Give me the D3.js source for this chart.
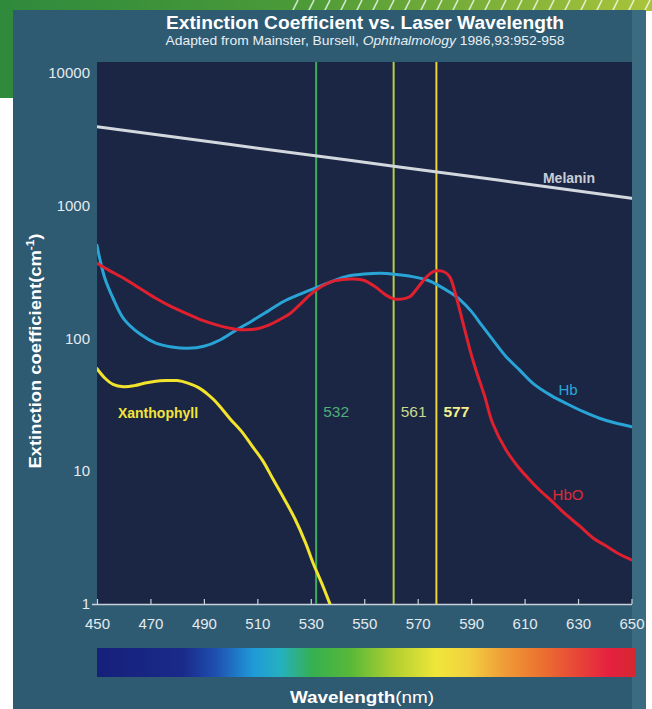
<!DOCTYPE html>
<html>
<head>
<meta charset="utf-8">
<script src="https://cdn.jsdelivr.net/npm/d3@7"></script>
<style>
  html, body { margin: 0; padding: 0; background: #ffffff; }
  svg { display: block; font-family: "Liberation Sans", Arial, Helvetica, sans-serif; }
</style>
</head>
<body>
<svg id="chart" width="652" height="709"></svg>
<script>
// ---- Data: extinction coefficient (cm^-1) by wavelength (nm) ----
const wavelengthTicks = [450, 470, 490, 510, 530, 550, 570, 590, 610, 630, 650];
const coefficientTicks = [1, 10, 100, 1000, 10000];

const melaninNm  = [450, 500, 550, 600, 650];
const melaninVal = [3900, 2870, 2110, 1550, 1130];

const hbNm  = [450, 451, 453, 456, 460, 466, 472, 478, 484, 490, 496, 502, 508, 514, 520, 526, 532, 538, 544, 550, 556, 562, 568, 574, 578, 582, 586, 590, 594, 598, 603, 608, 613, 620, 626, 632, 638, 644, 650];
const hbVal = [500, 400, 280, 200, 140, 108, 92, 86, 84, 87, 97, 115, 135, 160, 190, 215, 240, 268, 294, 304, 308, 302, 291, 272, 248, 222, 194, 160, 125, 98, 73, 58, 46, 37, 32, 28, 25, 23, 21.6];

const hboNm  = [450, 455, 460, 466, 472, 478, 484, 490, 496, 502, 506, 510, 514, 518, 522, 526, 530, 534, 538, 542, 546, 550, 554, 558, 561, 564, 567, 570, 573, 576, 578, 580, 582, 584, 586, 588, 590, 592, 595, 598, 603, 608, 611, 615, 620, 625, 631, 636, 641, 645, 650];
const hboVal = [366, 320, 283, 238, 200, 172, 152, 135, 124, 117, 116, 118, 125, 137, 152, 180, 215, 245, 268, 277, 279, 272, 245, 212, 198, 197, 205, 240, 285, 318, 322, 315, 290, 220, 155, 108, 76, 56, 37, 23, 14.5, 10.5, 9, 7.4, 6, 4.8, 3.8, 3.1, 2.7, 2.4, 2.15];

const xanthNm  = [450, 453, 456, 460, 464, 468, 472, 476, 480, 484, 488, 491, 494, 497, 500, 504, 508, 512, 516, 520, 524, 528, 531, 534, 537, 540];
const xanthVal = [59, 50, 45, 43.2, 44, 46, 47.5, 48, 48, 46, 42.5, 38.5, 34, 29, 24.5, 20, 15.5, 12, 8.6, 6.2, 4.4, 2.9, 2.0, 1.45, 1.02, 0.7];

const laserLines  = [532, 561, 577];

// ---- Styles ----
const laserColors = ["#3fae5a", "#b7cc48", "#ecd535"];
const laserLabelColors = ["#4fae7a", "#c8d890", "#f4f08a"];
const spectrumStops = [
  [0.00, "#15207a"], [0.16, "#1a2a8a"], [0.22, "#1e4fb0"], [0.29, "#1f9ad8"],
  [0.34, "#25b0c0"], [0.40, "#36b050"], [0.47, "#58b838"], [0.55, "#b0d030"],
  [0.63, "#f0e63a"], [0.69, "#f2d040"], [0.75, "#f0a038"], [0.82, "#ec7430"],
  [0.90, "#e84038"], [0.95, "#e62040"], [1.00, "#d42830"]
];

const svg = d3.select("#chart");
const W = 652, H = 709;

const plot = { left: 97, right: 632, top: 62, bottom: 604 };
const x = d3.scaleLinear().domain([450, 650]).range([plot.left, 631.5]);
const y = d3.scaleLog().domain([1, 10000]).range([604, 72.5]);

const defs = svg.append("defs");

// Spectrum gradient for the wavelength bar
const grad = defs.append("linearGradient").attr("id", "spectrum")
  .attr("x1", "0%").attr("x2", "100%").attr("y1", "0%").attr("y2", "0%");
spectrumStops.forEach(s => grad.append("stop").attr("offset", s[0]).attr("stop-color", s[1]));

// Top banner gradient
const banner = defs.append("linearGradient").attr("id", "banner")
  .attr("x1", "0%").attr("x2", "100%");
banner.append("stop").attr("offset", 0).attr("stop-color", "#2f8a3c");
banner.append("stop").attr("offset", 0.45).attr("stop-color", "#4a9a38");
banner.append("stop").attr("offset", 1).attr("stop-color", "#a9c43a");

const hatch = defs.append("pattern").attr("id", "hatch")
  .attr("width", 16).attr("height", 12).attr("patternUnits", "userSpaceOnUse");
hatch.append("line").attr("x1", 4).attr("y1", 12).attr("x2", 10).attr("y2", 0)
  .attr("stroke", "rgba(255,255,255,0.75)").attr("stroke-width", 1.6);

defs.append("clipPath").attr("id", "plotClip").append("rect")
  .attr("x", plot.left).attr("y", plot.top)
  .attr("width", plot.right - plot.left).attr("height", plot.bottom - plot.top);

// ---- Backdrop ----
svg.append("rect").attr("width", W).attr("height", H).attr("fill", "#ffffff");
svg.append("rect").attr("x", 0).attr("y", 0).attr("width", W).attr("height", 11).attr("fill", "url(#banner)");
svg.append("rect").attr("x", 290).attr("y", 0).attr("width", W - 290).attr("height", 11).attr("fill", "url(#hatch)");
svg.append("rect").attr("x", 0).attr("y", 0).attr("width", 14).attr("height", 98).attr("fill", "#2f8a3c");
svg.append("rect").attr("x", 13).attr("y", 10).attr("width", 633).attr("height", H - 10).attr("fill", "#2e5a72");
svg.append("rect").attr("x", 632).attr("y", 10).attr("width", 14).attr("height", H - 10).attr("fill", "#3b6b80");

// Plot area
svg.append("rect").attr("x", plot.left).attr("y", plot.top)
  .attr("width", plot.right - plot.left).attr("height", plot.bottom - plot.top)
  .attr("fill", "#1b2644");

// ---- Titles ----
svg.append("text").attr("x", 365).attr("y", 29).attr("text-anchor", "middle")
  .attr("fill", "#ffffff").attr("font-weight", "bold").attr("font-size", 18)
  .attr("textLength", 398).attr("lengthAdjust", "spacingAndGlyphs")
  .text("Extinction Coefficient vs. Laser Wavelength");
const sub = svg.append("text").attr("x", 365).attr("y", 45).attr("text-anchor", "middle")
  .attr("fill", "#e8eef2").attr("font-size", 13)
  .attr("textLength", 399).attr("lengthAdjust", "spacingAndGlyphs");
sub.append("tspan").text("Adapted from Mainster, Bursell, ");
sub.append("tspan").attr("font-style", "italic").text("Ophthalmology");
sub.append("tspan").text(" 1986,93:952-958");

// ---- Axes ----
const xAxis = d3.axisBottom(x).tickValues(wavelengthTicks).tickFormat(d3.format("d"))
  .tickSize(-5).tickPadding(14);
const gx = svg.append("g").attr("transform", `translate(0,${plot.bottom})`).call(xAxis);
gx.select(".domain").attr("stroke", "#c9d2da").attr("stroke-width", 1.5)
  .attr("d", `M92,0.5H${plot.right}`);
gx.selectAll(".tick line").attr("stroke", "#c9d2da").attr("stroke-width", 1.2);
gx.selectAll(".tick text").attr("fill", "#e4eaee").attr("font-size", 15)
  .attr("font-family", "Liberation Sans, Arial, sans-serif");

const yAxis = d3.axisLeft(y).tickValues(coefficientTicks).tickFormat(d3.format("d"))
  .tickSize(0).tickPadding(7);
const gy = svg.append("g").attr("transform", `translate(${plot.left},0)`).call(yAxis);
gy.select(".domain").remove();
gy.selectAll(".tick text").attr("fill", "#e4eaee").attr("font-size", 15)
  .attr("font-family", "Liberation Sans, Arial, sans-serif");

// Axis titles
const yt = svg.append("text").attr("transform", "translate(41,351) rotate(-90)")
  .attr("text-anchor", "middle").attr("fill", "#ffffff").attr("font-weight", "bold")
  .attr("font-size", 17).attr("textLength", 235).attr("lengthAdjust", "spacingAndGlyphs");
yt.append("tspan").text("Extinction coefficient(cm");
yt.append("tspan").attr("font-size", 11).attr("dy", -7).text("-1");
yt.append("tspan").attr("dy", 7).text(")");

const xt = svg.append("text").attr("x", 362).attr("y", 703).attr("text-anchor", "middle")
  .attr("fill", "#ffffff").attr("font-size", 17)
  .attr("textLength", 144).attr("lengthAdjust", "spacingAndGlyphs");
xt.append("tspan").attr("font-weight", "bold").text("Wavelength");
xt.append("tspan").text("(nm)");

// Spectrum bar
svg.append("rect").attr("x", x(450)).attr("y", 648).attr("width", 636 - x(450)).attr("height", 29)
  .attr("fill", "url(#spectrum)");

// ---- Marks ----
const layer = svg.append("g").attr("clip-path", "url(#plotClip)");

laserLines.forEach((nm, i) => {
  layer.append("line").attr("x1", x(nm)).attr("x2", x(nm))
    .attr("y1", plot.top).attr("y2", plot.bottom)
    .attr("stroke", laserColors[i]).attr("stroke-width", 2);
});

const line = d3.line().x(d => x(d[0])).y(d => y(d[1])).curve(d3.curveCatmullRom.alpha(0.5));
const zip = (a, b) => a.map((v, i) => [v, b[i]]);

const series = [
  { nm: melaninNm, val: melaninVal, color: "#d3d8de", width: 3 },
  { nm: xanthNm,   val: xanthVal,   color: "#f2e32c", width: 3 },
  { nm: hbNm,      val: hbVal,      color: "#28a4d6", width: 3 },
  { nm: hboNm,     val: hboVal,     color: "#e0202e", width: 3 }
];
series.forEach(s => {
  layer.append("path").datum(zip(s.nm, s.val)).attr("d", line)
    .attr("fill", "none").attr("stroke", s.color).attr("stroke-width", s.width)
    .attr("stroke-linejoin", "round").attr("stroke-linecap", "round");
});

// ---- Series labels ----
const labels = [
  { text: "Melanin",     x: 569, y: 183, color: "#c9ced6", weight: "bold", size: 14 },
  { text: "Xanthophyll", x: 158, y: 418, color: "#f2e43a", weight: "bold", size: 14 },
  { text: "Hb",          x: 568, y: 395, color: "#2ca6d8", weight: "normal", size: 15 },
  { text: "HbO",         x: 568, y: 500, color: "#e02a36", weight: "normal", size: 15 }
];
labels.forEach(l => {
  svg.append("text").attr("x", l.x).attr("y", l.y).attr("text-anchor", "middle")
    .attr("fill", l.color).attr("font-weight", l.weight).attr("font-size", l.size).text(l.text);
});

laserLines.forEach((nm, i) => {
  svg.append("text").attr("x", x(nm) + 7).attr("y", 417)
    .attr("fill", laserLabelColors[i]).attr("font-size", 15.5)
    .attr("font-weight", i === 2 ? "bold" : "normal")
    .text(String(nm));
});
</script>
</body>
</html>
